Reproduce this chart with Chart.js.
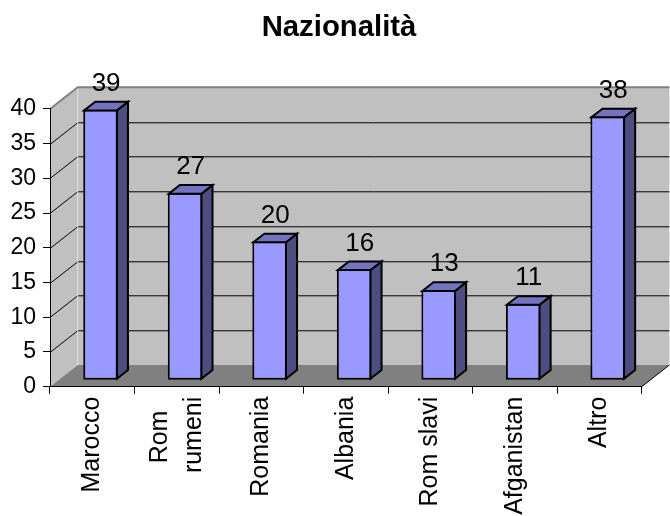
<!DOCTYPE html>
<html><head><meta charset="utf-8">
<script src="https://cdn.jsdelivr.net/npm/chart.js@4/dist/chart.umd.min.js"></script>
<style>html,body{margin:0;padding:0;background:#fff;}canvas{display:block;}</style>
</head><body>
<canvas id="c" width="670" height="516"></canvas>
<script>
const categories = ['Marocco', ['Rom', 'rumeni'], 'Romania', 'Albania', 'Rom slavi', 'Afganistan', 'Altro'];
const values = [39, 27, 20, 16, 13, 11, 38];
const yTickValues = [0, 5, 10, 15, 20, 25, 30, 35, 40];
const chartTitle = 'Nazionalità';

const FONT = "'Liberation Sans', Arial, sans-serif";
const DEPTH = { dx: 27.7, dy: -21.7 };
const BAR_SHIFT = 0.3;
const BAR_DEPTH = 0.4;
const X_FONT_SIZE = 25;
const X_LINE_HEIGHT = 1.36;

const measurer = document.createElement('canvas').getContext('2d');
function centerLines(label) {
  if (!Array.isArray(label)) return label;
  measurer.font = X_FONT_SIZE + 'px ' + FONT;
  const widths = label.map(s => measurer.measureText(s).width);
  const maxW = Math.max(...widths);
  const sp = measurer.measureText(' ').width;
  return label.map((s, i) => s + ' '.repeat(Math.round((maxW - widths[i]) / 2 / sp)));
}

function poly(ctx, pts, fill, stroke, lw) {
  ctx.beginPath();
  ctx.moveTo(pts[0][0], pts[0][1]);
  for (let i = 1; i < pts.length; i++) ctx.lineTo(pts[i][0], pts[i][1]);
  ctx.closePath();
  if (fill) { ctx.fillStyle = fill; ctx.fill(); }
  if (stroke) { ctx.strokeStyle = stroke; ctx.lineWidth = lw || 1; ctx.stroke(); }
}
function line(ctx, x1, y1, x2, y2, color, lw) {
  ctx.beginPath(); ctx.moveTo(x1, y1); ctx.lineTo(x2, y2);
  ctx.strokeStyle = color; ctx.lineWidth = lw || 1; ctx.stroke();
}

const titleShift = {
  id: 'titleShift',
  afterLayout(chart) {
    const t = chart.titleBlock;
    if (t) { t.left = 8; t.right = chart.width; t.width = t.right - t.left; }
  }
};

const frame3d = {
  id: 'frame3d',
  beforeDraw(chart) {
    const { ctx, chartArea: a, scales: { y } } = chart;
    const dx = DEPTH.dx, dy = DEPTH.dy;
    const L = a.left, R = a.right;
    const T = y.getPixelForValue(yTickValues[yTickValues.length - 1]);
    const B = y.getPixelForValue(0);
    ctx.save();
    poly(ctx, [[L + dx, T + dy], [R + dx, T + dy], [R + dx, B + dy], [L + dx, B + dy]], '#c0c0c0');
    poly(ctx, [[L, B], [L, T], [L + dx, T + dy], [L + dx, B + dy]], '#c0c0c0');
    poly(ctx, [[L, B], [R, B], [R + dx, B + dy], [L + dx, B + dy]], '#808080');
    yTickValues.slice(1, -1).forEach(v => {
      const py = Math.round(y.getPixelForValue(v)) + 0.5;
      line(ctx, L + dx, py + dy, R + dx, py + dy, '#000', 1);
      line(ctx, L, py, L + dx, py + dy, '#000', 1);
    });
    line(ctx, L + dx, B + dy, L + dx, T + dy, '#e0e0e0', 1);
    ctx.beginPath();
    ctx.moveTo(L, T); ctx.lineTo(L + dx, T + dy); ctx.lineTo(R + dx, T + dy);
    ctx.strokeStyle = '#808080'; ctx.lineWidth = 2; ctx.stroke();
    line(ctx, R, B, R + dx, B + dy, '#000', 1);
    ctx.restore();
  }
};

const bars3d = {
  id: 'bars3d',
  beforeDatasetsDraw(chart) {
    chart.ctx.save();
    chart.ctx.translate(DEPTH.dx * BAR_SHIFT, DEPTH.dy * BAR_SHIFT);
  },
  afterDatasetsDraw(chart) {
    const ctx = chart.ctx;
    const meta = chart.getDatasetMeta(0);
    const data = chart.data.datasets[0].data;
    const bdx = DEPTH.dx * BAR_DEPTH, bdy = DEPTH.dy * BAR_DEPTH;
    ctx.lineJoin = 'miter';
    meta.data.forEach((bar, i) => {
      const { x, y, base, width } = bar.getProps(['x', 'y', 'base', 'width'], true);
      const xl = x - width / 2 + 1, xr = x + width / 2 - 1, yt = y + 1, yb = base - 1;
      poly(ctx, [[xr, yt], [xr + bdx, yt + bdy], [xr + bdx, yb + bdy], [xr, yb]], '#4d4d80', '#000', 2);
      poly(ctx, [[xl, yt], [xl + bdx, yt + bdy], [xr + bdx, yt + bdy], [xr, yt]], '#7373bf', '#000', 2);
      ctx.fillStyle = '#000';
      ctx.font = '26px ' + FONT;
      ctx.textAlign = 'center';
      ctx.textBaseline = 'alphabetic';
      ctx.fillText(String(data[i]), x + bdx / 2, y - 18.5);
    });
    ctx.restore();
  }
};

new Chart(document.getElementById('c'), {
  type: 'bar',
  data: {
    labels: categories,
    datasets: [{
      data: values,
      backgroundColor: '#9999ff',
      borderColor: '#000',
      borderWidth: 2,
      borderSkipped: false,
      barPercentage: 0.41,
      categoryPercentage: 1,
      clip: false
    }]
  },
  options: {
    responsive: false,
    animation: false,
    devicePixelRatio: 1,
    layout: { padding: { left: 6, right: 28.3, top: 0, bottom: 0 } },
    plugins: {
      legend: { display: false },
      tooltip: { enabled: false },
      title: {
        display: true,
        text: chartTitle,
        color: '#000',
        font: { family: FONT, size: 29.3, weight: 'bold', lineHeight: 1.2 },
        padding: { top: 10, bottom: 63.8 }
      }
    },
    scales: {
      x: {
        grid: { drawOnChartArea: false, drawTicks: true, tickLength: 7, color: '#000', offset: true },
        border: { color: '#000', width: 1 },
        ticks: {
          autoSkip: false, minRotation: 90, maxRotation: 90, padding: 3, color: '#000',
          font: { family: FONT, size: X_FONT_SIZE, lineHeight: X_LINE_HEIGHT },
          callback: function (v, i) { return centerLines(categories[i]); }
        },
        afterFit: s => {
          s.height = 129.3;
          if (!s._centeredLines) {
            const orig = s._computeLabelItems;
            s._computeLabelItems = function (ca) {
              const items = orig.call(this, ca);
              items.forEach(it => {
                if (Array.isArray(it.label) && it.label.length > 1) {
                  it.textOffset -= (it.label.length - 1) * it.font.lineHeight / 2;
                }
              });
              return items;
            };
            s._centeredLines = true;
          }
        }
      },
      y: {
        min: 0, max: 40,
        afterBuildTicks: s => { s.ticks = yTickValues.map(v => ({ value: v })); },
        grid: { drawOnChartArea: false, drawTicks: true, tickLength: 7, color: '#000' },
        border: { color: '#000', width: 1 },
        ticks: { padding: 7, color: '#000', font: { family: FONT, size: 23 } },
        afterFit: s => { s.width = 44; }
      }
    }
  },
  plugins: [titleShift, frame3d, bars3d]
});
</script>
</body></html>
